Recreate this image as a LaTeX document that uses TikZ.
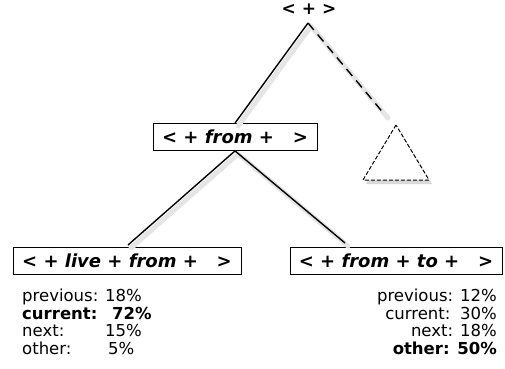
\documentclass[tikz,border=0pt]{standalone}
\usepackage{fontspec}
\setmainfont{DejaVu Sans}
\begin{document}
\begin{tikzpicture}[x=1pt,y=-1pt,
  treebox/.style={draw,line width=0.8pt,inner sep=0pt,minimum height=27pt,font=\fontsize{18}{20}\selectfont\bfseries},
  branch/.style={line width=1.4pt},
  shadowline/.style={line width=5pt,black!10,line cap=round},
  stat/.style={inner sep=0pt,anchor=base west,font=\fontsize{16.5}{18}\selectfont},
  statb/.style={stat,font=\fontsize{16.5}{18}\selectfont\bfseries},
  statr/.style={inner sep=0pt,anchor=base east,font=\fontsize{16.5}{18}\selectfont}]
\useasboundingbox (0,0) rectangle (505,368);
% nodes
\node[inner sep=0pt,font=\fontsize{17}{18}\selectfont\bfseries] (top) at (309,9) {< + >};
\coordinate (apex) at (308,23);
\coordinate (dashend) at (385,115);
\node[treebox,minimum width=164pt] (mid) at (235,137) {< + \textit{from} + \ \ >};
\node[treebox,minimum width=228pt] (lb) at (127,261) {< + \textit{live} + \textit{from} + \ \ >};
\node[treebox,minimum width=212pt] (rb) at (396,261) {< + \textit{from} + \textit{to} + \ \ >};
\coordinate (lbend) at (128,245);
\coordinate (rbend) at (345,243);
\coordinate (ta) at (396,125);
\coordinate (tl) at (363,180);
\coordinate (tr) at (429,180);
% shadows
\draw[shadowline] ([shift={(3,3)}]apex) -- ([shift={(3,3)}]mid.north);
\draw[shadowline] ([shift={(3,3)}]apex) -- ([shift={(3,3)}]dashend);
\draw[shadowline] ([shift={(3,3)}]mid.south) -- ([shift={(3,3)}]lbend);
\draw[shadowline] ([shift={(3,3)}]mid.south) -- ([shift={(3,3)}]rbend);
\fill[black!15] ([shift={(3,4)}]ta) -- ([shift={(3,4)}]tl) -- ([shift={(3,4)}]tr) -- cycle;
% branches
\draw[branch] (apex) -- (mid.north);
\draw[branch,dash pattern=on 9pt off 6pt] (apex) -- (dashend);
\draw[branch] (mid.south) -- (lbend);
\draw[branch] (mid.south) -- (rbend);
\filldraw[fill=white,draw=black,line width=1pt,dash pattern=on 4pt off 2pt] (ta) -- (tl) -- (tr) -- cycle;
% left stats
\node[stat] (l1) at (22,301) {previous:};
\node[stat] (l1v) at (105,301) {18\%};
\node[statb] (l2) at (22,319) {current:};
\node[statb] (l2v) at (112,319) {72\%};
\node[stat] (l3) at (22,336) {next:};
\node[stat] (l3v) at (105,336) {15\%};
\node[stat] (l4) at (22,354) {other:};
\node[stat] (l4v) at (108,354) {5\%};
% right stats
\node[statr] (r1) at (497,301) {previous: 12\%};
\node[statr] (r2) at (497,319) {current: \,30\%};
\node[statr] (r3) at (497,336) {next: 18\%};
\node[statr,font=\fontsize{16.5}{18}\selectfont\bfseries] (r4) at (497,354) {other: 50\%};
\end{tikzpicture}
\end{document}
